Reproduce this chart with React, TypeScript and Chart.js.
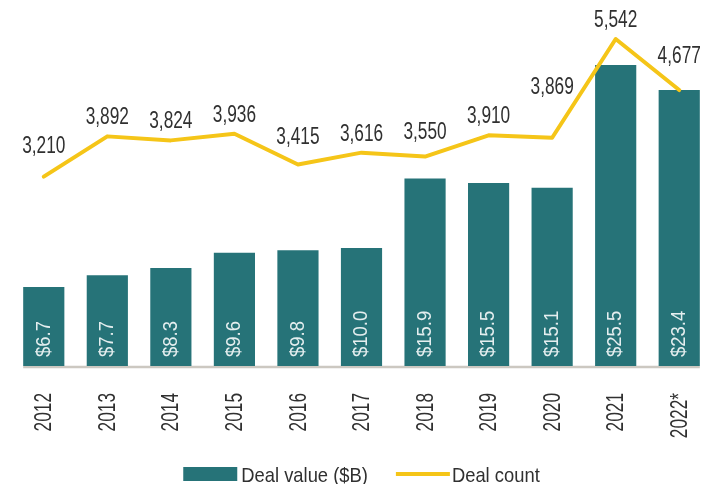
import { useEffect, useRef } from "react";
import { Chart, registerables } from "chart.js";

Chart.register(...registerables);

const years = ["2012", "2013", "2014", "2015", "2016", "2017", "2018", "2019", "2020", "2021", "2022*"];
const dealValue = [6.7, 7.7, 8.3, 9.6, 9.8, 10.0, 15.9, 15.5, 15.1, 25.5, 23.4];
const dealCount = [3210, 3892, 3824, 3936, 3415, 3616, 3550, 3910, 3869, 5542, 4677];
const valueLabels = dealValue.map((v) => "$" + v.toFixed(1));
const countLabels = dealCount.map((v) => v.toLocaleString("en-US"));

const FONT = "'Liberation Sans', Arial, sans-serif";
const TEAL = "#267378";
const GOLD = "#f5c518";
const TEXT = "#303030";

function drawText(
  ctx: CanvasRenderingContext2D,
  text: string,
  x: number,
  y: number,
  size: number,
  sx: number,
  align: CanvasTextAlign,
  baseline: CanvasTextBaseline,
  rotate = 0
) {
  ctx.save();
  ctx.translate(x, y);
  if (rotate) ctx.rotate(rotate);
  ctx.scale(sx, 1);
  ctx.font = `${size}px ${FONT}`;
  ctx.textAlign = align;
  ctx.textBaseline = baseline;
  ctx.fillText(text, 0, 0);
  ctx.restore();
}

function textWidth(ctx: CanvasRenderingContext2D, text: string, size: number, sx: number) {
  ctx.save();
  ctx.font = `${size}px ${FONT}`;
  const w = ctx.measureText(text).width * sx;
  ctx.restore();
  return w;
}

const baselinePlugin = {
  id: "baseline",
  beforeDatasetsDraw(chart: any) {
    const bars = chart.getDatasetMeta(0).data;
    if (!bars.length) return;
    const y = chart.scales.y.getPixelForValue(0);
    const first = bars[0];
    const last = bars[bars.length - 1];
    const ctx = chart.ctx;
    ctx.save();
    ctx.strokeStyle = "#ccc8c1";
    ctx.lineWidth = 2.5;
    ctx.beginPath();
    ctx.moveTo(first.x - first.width / 2, y + 1);
    ctx.lineTo(last.x + last.width / 2, y + 1);
    ctx.stroke();
    ctx.restore();
  },
};

const labelPlugin = {
  id: "dealLabels",
  afterDatasetsDraw(chart: any) {
    const ctx = chart.ctx;
    const base = chart.scales.y.getPixelForValue(0);
    ctx.save();
    // bar value labels, rotated
    ctx.fillStyle = "rgba(255,255,255,0.88)";
    chart.getDatasetMeta(0).data.forEach((bar: any, i: number) => {
      drawText(ctx, valueLabels[i], bar.x, base - 9, 21, 0.88, "left", "middle", -Math.PI / 2);
    });
    // category labels under the axis, rotated
    ctx.fillStyle = TEXT;
    chart.getDatasetMeta(0).data.forEach((bar: any, i: number) => {
      drawText(ctx, years[i], bar.x + 1, base + 27, 24, 0.72, "right", "middle", -Math.PI / 2);
    });
    // line count labels, lifted clear of neighbouring segments
    const pts = chart.getDatasetMeta(1).data;
    pts.forEach((p: any, i: number) => {
      const text = countLabels[i];
      const w = textWidth(ctx, text, 24, 0.72);
      const l = p.x - w / 2;
      const r = p.x + w / 2;
      let bottom = p.y - 12;
      const check = (q: any) => {
        const edge = q.x < p.x ? Math.max(l, q.x) : Math.min(r, q.x);
        const yy = p.y + ((q.y - p.y) * (edge - p.x)) / (q.x - p.x);
        bottom = Math.min(bottom, yy - 10);
      };
      if (i > 0) check(pts[i - 1]);
      if (i < pts.length - 1) check(pts[i + 1]);
      drawText(ctx, text, p.x, bottom, 24, 0.72, "center", "alphabetic");
    });
    ctx.restore();
  },
};

const legendPlugin = {
  id: "customLegend",
  afterDraw(chart: any) {
    const ctx = chart.ctx;
    const ds = chart.data.datasets;
    const size = 21;
    const sx = 0.875;
    const w1 = textWidth(ctx, ds[0].label, size, sx);
    const w2 = textWidth(ctx, ds[1].label, size, sx);
    const sym = 54;
    const total = sym + 4 + w1 + 28 + sym + 2 + w2;
    const cx = (chart.chartArea.left + chart.chartArea.right) / 2;
    let x = cx - total / 2;
    const yc = 474;
    ctx.save();
    ctx.fillStyle = ds[0].backgroundColor;
    ctx.fillRect(x, yc - 7, sym, 14);
    x += sym + 4;
    ctx.fillStyle = TEXT;
    drawText(ctx, ds[0].label, x, yc + 7.5, size, sx, "left", "alphabetic");
    x += w1 + 28;
    ctx.strokeStyle = ds[1].borderColor;
    ctx.lineWidth = 4;
    ctx.beginPath();
    ctx.moveTo(x, yc);
    ctx.lineTo(x + sym, yc);
    ctx.stroke();
    x += sym + 2;
    drawText(ctx, ds[1].label, x, yc + 7.5, size, sx, "left", "alphabetic");
    ctx.restore();
  },
};

export default function App() {
  const ref = useRef<HTMLCanvasElement | null>(null);

  useEffect(() => {
    document.body.style.margin = "0";
    if (!ref.current) return;
    const chart = new Chart(ref.current, {
      type: "bar",
      data: {
        labels: years,
        datasets: [
          {
            type: "bar",
            label: "Deal value ($B)",
            data: dealValue,
            backgroundColor: TEAL,
            borderWidth: 0,
            barPercentage: 0.9,
            categoryPercentage: 0.72,
            yAxisID: "y",
            order: 1,
          } as any,
          {
            type: "line",
            label: "Deal count",
            data: dealCount,
            borderColor: GOLD,
            backgroundColor: GOLD,
            borderWidth: 4,
            borderCapStyle: "round",
            borderJoinStyle: "round",
            pointRadius: 0,
            pointHoverRadius: 0,
            tension: 0,
            fill: false,
            yAxisID: "y1",
            order: 0,
          } as any,
        ],
      },
      options: {
        animation: false,
        responsive: false,
        maintainAspectRatio: false,
        layout: { padding: { top: 12, left: 12, right: 1, bottom: 118 } },
        plugins: {
          legend: { display: false },
          tooltip: { enabled: false },
        },
        scales: {
          x: { display: false, offset: true },
          y: { display: false, min: 0, max: 30 },
          y1: { display: false, min: 0, max: 6000 },
        },
      },
      plugins: [baselinePlugin, labelPlugin, legendPlugin],
    });
    return () => chart.destroy();
  }, []);

  return (
    <div style={{ width: 712, height: 484 }}>
      <canvas ref={ref} width={712} height={484} style={{ display: "block" }} />
    </div>
  );
}
